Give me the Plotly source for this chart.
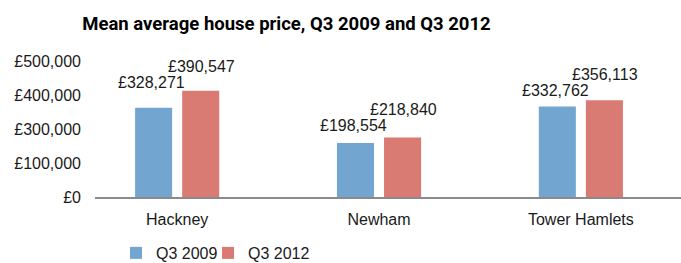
import plotly.graph_objects as go

boroughs = ["Hackney", "Newham", "Tower Hamlets"]
q3_2009 = [328271, 198554, 332762]
q3_2012 = [390547, 218840, 356113]
series_names = ["Q3 2009", "Q3 2012"]
colors = ["#72a6d0", "#d97b73"]
tick_vals = [0, 125000, 250000, 375000, 500000]
tick_text = ["£0", "£100,000", "£300,000", "£400,000", "£500,000"]

# style: label lift above each bar (px), per series
label_lift = [[25, 17.5, 16], [24.5, 28, 26]]
label_xshift = [-25.2, 24.2]
legend_x = [21 / 586, 113 / 586]

FONT = "Liberation Sans, Arial, Helvetica, sans-serif"
TITLE_FONT = "Roboto, Liberation Sans, Arial, sans-serif"

fig = go.Figure()
for i, (name, vals, col) in enumerate(zip(series_names, [q3_2009, q3_2012], colors)):
    fig.add_trace(go.Bar(x=boroughs, y=vals, name=name, marker_color=col,
                         marker_line_width=0,
                         legend="legend" if i == 0 else "legend2"))

# value labels
for vals, off, lifts in zip([q3_2009, q3_2012], label_xshift, label_lift):
    for b, v, lift in zip(boroughs, vals, lifts):
        fig.add_annotation(x=b, y=v, text=f"£{v:,}", showarrow=False,
                           xanchor="center", yanchor="middle",
                           xshift=off, yshift=lift,
                           font=dict(family=FONT, size=16, color="#1a1a1a"))

legend_style = dict(orientation="h", xanchor="left", y=1 - 236 / 263, yanchor="top",
                    yref="container",
                    font=dict(family=FONT, size=16, color="#1a1a1a"),
                    itemwidth=30, bgcolor="rgba(0,0,0,0)")

fig.update_layout(
    width=681, height=263,
    margin=dict(l=95, r=0, t=61, b=66, autoexpand=False),
    paper_bgcolor="white", plot_bgcolor="white",
    barmode="group", bargap=0.5335, bargroupgap=0.213,
    title=dict(text="<b>Mean average house price, Q3 2009 and Q3 2012</b>",
               x=286.5 / 681, xanchor="center", y=1 - 24 / 263, yanchor="middle",
               xref="container", yref="container",
               font=dict(family=TITLE_FONT, size=18.5, color="#000")),
    font=dict(family=FONT, size=16, color="#1a1a1a"),
    showlegend=True,
    legend=dict(x=legend_x[0], **legend_style),
    legend2=dict(x=legend_x[1], **legend_style),
)
fig.update_xaxes(range=[-0.407, 2.496], showline=True, linecolor="#8a8a8a", linewidth=1.5,
                 ticks="", showgrid=False, ticklabelstandoff=7,
                 tickfont=dict(family=FONT, size=16, color="#1a1a1a"))
fig.update_yaxes(range=[0, 500000], tickvals=tick_vals, ticktext=tick_text, showgrid=False,
                 zeroline=False, showline=False, ticks="", ticklabelstandoff=13,
                 tickfont=dict(family=FONT, size=16, color="#1a1a1a"))

fig.write_html("out.html", config={"displayModeBar": False},
               post_script="document.body.style.margin='0';document.body.style.overflow='hidden';")
